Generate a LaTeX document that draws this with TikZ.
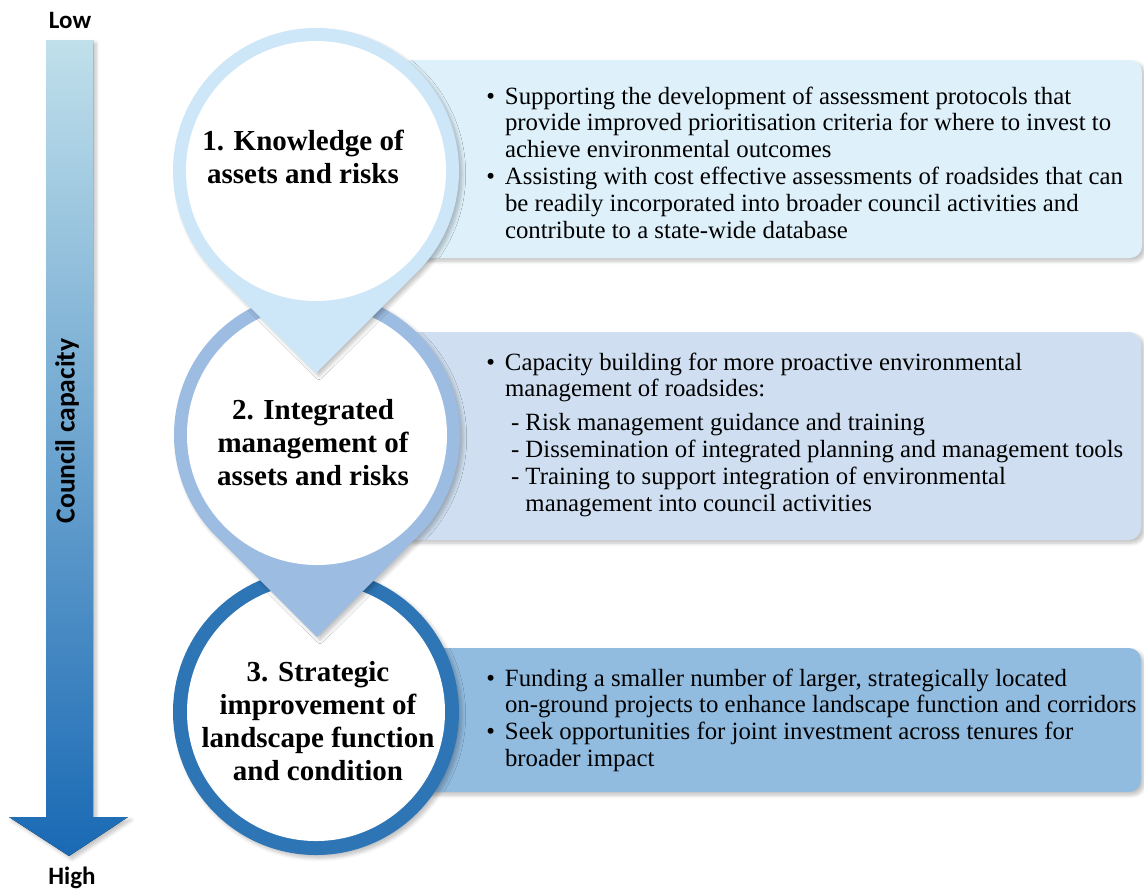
\documentclass[tikz,border=0pt]{standalone}
\usepackage{fontspec}
\setmainfont{Liberation Serif}
\newfontfamily\labelfont{Carlito}
\usetikzlibrary{shadows.blur}

\definecolor{pinone}{RGB}{205,231,248}
\definecolor{pintwo}{RGB}{157,188,226}
\definecolor{pinthree}{RGB}{46,117,182}
\definecolor{boxone}{RGB}{222,240,250}
\definecolor{boxtwo}{RGB}{207,223,241}
\definecolor{boxthree}{RGB}{145,187,223}
\definecolor{arrowtop}{RGB}{192,224,235}
\definecolor{arrowmid}{RGB}{122,170,220}
\definecolor{arrowbot}{RGB}{25,105,180}

\begin{document}
\begin{tikzpicture}[x=0.5pt,y=-0.5pt,
    title/.style={align=center,inner sep=0pt,font=\fontsize{14.5}{16.5}\selectfont\bfseries},
    bullets/.style={anchor=base west,inner sep=0pt,font=\fontsize{12.4}{13.4}\selectfont},
    scalelabel/.style={inner sep=0pt,font=\labelfont\bfseries\fontsize{12.5}{15}\selectfont},
    softshadow/.style={blur shadow={shadow xshift=1.5pt,shadow yshift=-1.5pt,shadow blur steps=6,shadow opacity=25}}]

  \useasboundingbox (0,0) rectangle (1144,890);

  % Capacity arrow
  \fill[shading=axis,top color=arrowtop,middle color=arrowmid,bottom color=arrowbot,softshadow]
    (46,40) -- (93,40) -- (93,817) -- (128,817) -- (69,856) -- (9,817) -- (46,817) -- cycle;
  \node[scalelabel] (low) at (70,20) {Low};
  \node[scalelabel] (high) at (72,878) {High};
  \node[scalelabel,font=\labelfont\bfseries\fontsize{13.8}{16}\selectfont,rotate=90] (capacity) at (67,431) {Council capacity};

  % Boxes
  \fill[boxone,rounded corners=6pt,softshadow] (400,60) rectangle (1142,258);
  \fill[boxtwo,rounded corners=6pt,softshadow] (400,332) rectangle (1141,540);
  \fill[boxthree,rounded corners=6pt,softshadow] (400,648) rectangle (1141,792);

  % Step 3
  \fill[pinthree,softshadow] (316,712) circle[radius=71.5pt];
  \fill[white] (316,712) circle[radius=64.5pt];

  % Step 2
  \fill[pintwo,softshadow] (317,435) ++(-45:71.5pt) arc[start angle=-45,end angle=225,radius=71.5pt]
    -- (317,637) -- cycle;
  \fill[white] (317,435) circle[radius=65pt];

  % Step 1
  \fill[pinone,softshadow] (316,171) ++(-45:71.5pt) arc[start angle=-45,end angle=225,radius=71.5pt]
    -- (316,373) -- cycle;
  \fill[white] (316,171) circle[radius=65pt];

  % Step titles
  \node[title] (step1) at (303,157) {1. Knowledge of\\assets and risks};
  \node[title] (step2) at (313,443) {2. Integrated\\management of\\assets and risks};
  \node[title] (step3) at (318,721) {3. Strategic\\improvement of\\landscape function\\and condition};

  % Box texts
  \node[bullets] (list1) at (486,104) {\begin{tabular}[t]{@{}l@{\hspace{0.4em}}l@{}}
    \textbullet & Supporting the development of assessment protocols that\\
     & provide improved prioritisation criteria for where to invest to\\
     & achieve environmental outcomes\\
    \textbullet & Assisting with cost effective assessments of roadsides that can\\
     & be readily incorporated into broader council activities and\\
     & contribute to a state-wide database
  \end{tabular}};

  \node[bullets] (list2) at (486,370) {\begin{tabular}[t]{@{}l@{\hspace{0.4em}}l@{}}
    \textbullet & Capacity building for more proactive environmental\\
     & management of roadsides:\\[3.5pt]
     & \hspace{3pt}- Risk management guidance and training\\
     & \hspace{3pt}- Dissemination of integrated planning and management tools\\
     & \hspace{3pt}- Training to support integration of environmental\\
     & \hspace{3pt}\phantom{- }management into council activities
  \end{tabular}};

  \node[bullets] (list3) at (486,686) {\begin{tabular}[t]{@{}l@{\hspace{0.4em}}l@{}}
    \textbullet & Funding a smaller number of larger, strategically located\\
     & on-ground projects to enhance landscape function and corridors\\
    \textbullet & Seek opportunities for joint investment across tenures for\\
     & broader impact
  \end{tabular}};
\end{tikzpicture}
\end{document}
